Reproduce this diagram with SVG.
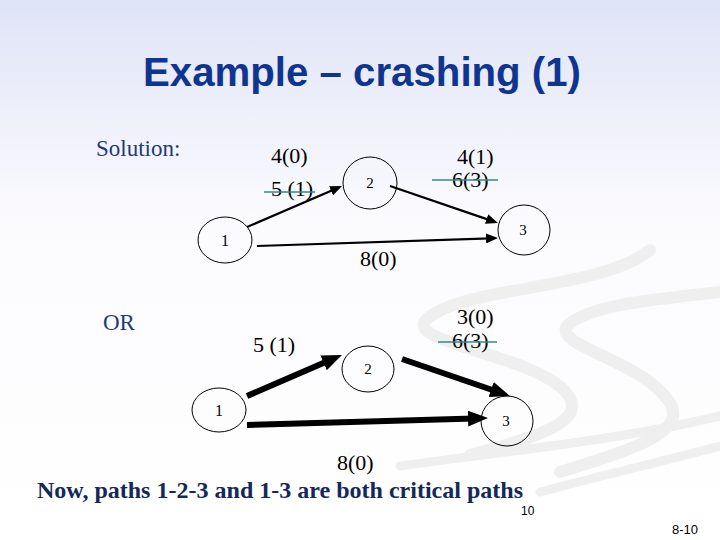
<svg xmlns="http://www.w3.org/2000/svg" width="720" height="540" viewBox="0 0 720 540">
<defs>
<linearGradient id="bg" x1="0" y1="0" x2="0" y2="1">
<stop offset="0" stop-color="#dfe3f7"/>
<stop offset="0.4" stop-color="#fbfbfe"/>
<stop offset="1" stop-color="#ffffff"/>
</linearGradient>
<marker id="thin" markerUnits="userSpaceOnUse" markerWidth="12" markerHeight="10" refX="4" refY="5" orient="auto">
<path d="M0,0 L12,5 L0,10 Z" fill="#000"/>
</marker>
<marker id="thick" markerUnits="userSpaceOnUse" markerWidth="20" markerHeight="16" refX="6" refY="8" orient="auto">
<path d="M0,0 L20,8 L0,16 Z" fill="#000"/>
</marker>
</defs>
<style>
.node{fill:none;stroke:#000;stroke-width:1}
.strike{stroke:#2f8a8e;stroke-width:1.3}
.thinl{stroke:#000;stroke-width:2.2;fill:none;marker-end:url(#thin)}
.thickl{stroke:#000;stroke-width:6;fill:none;marker-end:url(#thick)}
.sw{fill:none;stroke:#ececec;stroke-linecap:round}
</style>
<rect x="0" y="0" width="720" height="540" fill="url(#bg)"/>
<g id="swoosh" opacity="0.8">
<path class="sw" stroke-width="12" d="M650 250 C600 290 470 285 428 318 C400 342 520 352 562 388 C590 415 560 432 470 455"/>
<path class="sw" stroke-width="12" d="M720 292 C650 300 590 305 568 325 C550 345 640 360 668 400 C690 430 640 448 560 472"/>
<path class="sw" stroke-width="9" d="M400 466 C500 452 620 440 720 416"/>
<path class="sw" stroke-width="9" d="M540 492 C600 476 660 462 720 446"/>
</g>
<text x="143" y="86" font-family="Liberation Sans, Arial, sans-serif" font-weight="bold" font-size="40" fill="#0f3591" textLength="438" lengthAdjust="spacingAndGlyphs">Example – crashing (1)</text>
<text x="96" y="156" font-family="Liberation Serif, serif" font-size="23" fill="#1f3a7a">Solution:</text>
<text x="103" y="330" font-family="Liberation Serif, serif" font-size="23" fill="#1f3a7a">OR</text>
<g id="connectors">
<line class="thinl" x1="247" y1="227" x2="334.7" y2="189.2"/>
<line class="thinl" x1="390" y1="186" x2="490.4" y2="220.4"/>
<line class="thinl" x1="257" y1="246" x2="490" y2="238.3"/>
<line class="thickl" x1="247" y1="396" x2="329.1" y2="360.5"/>
<line class="thickl" x1="402" y1="359" x2="496.8" y2="391.5"/>
<line class="thickl" x1="247" y1="425" x2="474" y2="418.4"/>
</g>
<g font-family="Liberation Serif, serif" fill="#000" text-anchor="middle">
<g id="top-n1"><ellipse class="node" cx="225" cy="240" rx="27" ry="23"/><text x="225" y="246" font-size="16">1</text></g>
<g id="top-n2"><ellipse class="node" cx="370" cy="183" rx="27" ry="26"/><text x="370" y="188" font-size="15">2</text></g>
<g id="top-n3"><ellipse class="node" cx="524" cy="230" rx="26" ry="25"/><text x="523" y="235" font-size="15">3</text></g>
<g id="bot-n1"><ellipse class="node" cx="219" cy="410" rx="27" ry="22"/><text x="219" y="416" font-size="16">1</text></g>
<g id="bot-n2"><ellipse class="node" cx="368" cy="369" rx="26" ry="23"/><text x="368" y="374" font-size="15">2</text></g>
<g id="bot-n3"><ellipse class="node" cx="507" cy="421" rx="26" ry="25"/><text x="506" y="426" font-size="15">3</text></g>
</g>
<g id="labels" font-family="Liberation Serif, serif" font-size="22" fill="#000">
<text x="271" y="163">4(0)</text>
<text x="271" y="196">5 (1)</text>
<line class="strike" x1="264" y1="192" x2="315" y2="192"/>
<text x="457" y="164">4(1)</text>
<text x="452" y="187">6(3)</text>
<line class="strike" x1="432" y1="180" x2="498" y2="180"/>
<text x="360" y="266">8(0)</text>
<text x="253" y="352">5 (1)</text>
<text x="457" y="324">3(0)</text>
<text x="452" y="348">6(3)</text>
<line class="strike" x1="438" y1="342" x2="497" y2="342"/>
<text x="337" y="470">8(0)</text>
</g>
<text x="37" y="498" font-family="Liberation Serif, serif" font-weight="bold" font-size="24" fill="#14285a" textLength="486" lengthAdjust="spacingAndGlyphs">Now, paths 1-2-3 and 1-3 are both critical paths</text>
<text x="521" y="515" font-family="Liberation Sans, Arial, sans-serif" font-size="12" fill="#000">10</text>
<text x="672" y="534" font-family="Liberation Sans, Arial, sans-serif" font-size="13" fill="#000">8-10</text>
</svg>
